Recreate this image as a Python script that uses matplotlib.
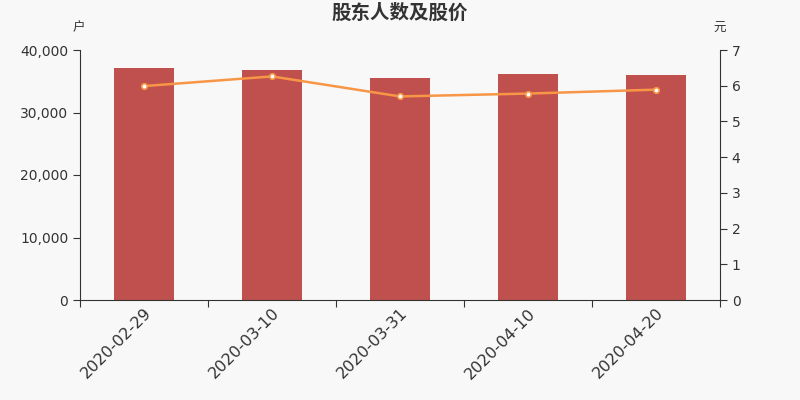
import matplotlib.pyplot as plt
from matplotlib.ticker import FuncFormatter

plt.rcParams['font.family'] = ['DejaVu Sans', 'Noto Sans CJK SC']

fechas = ['2020-02-29', '2020-03-10', '2020-03-31', '2020-04-10', '2020-04-20']
accionistas = [37200, 36880, 35600, 36150, 36080]
precios = [5.99, 6.26, 5.70, 5.78, 5.89]

color_barra = '#c0504d'
color_linea = '#f79646'
color_texto = '#333333'
fondo = '#f8f8f8'
cjk = ['Noto Sans CJK SC', 'DejaVu Sans']

fig = plt.figure(figsize=(8, 4), dpi=100, facecolor=fondo)
ax1 = fig.add_axes([0.1, 0.25, 0.8, 0.625], facecolor=fondo)
ax2 = ax1.twinx()

x = list(range(len(fechas)))
ax1.bar(x, accionistas, width=0.47, color=color_barra, zorder=2)
ax2.plot(x, precios, color=color_linea, lw=1.8, marker='o', ms=4,
         mfc='white', mec=color_linea, mew=1.2, zorder=3)

ax1.set_xlim(-0.5, len(fechas) - 0.5)
ax1.set_ylim(0, 40000)
ax1.set_yticks([0, 10000, 20000, 30000, 40000])
ax1.yaxis.set_major_formatter(FuncFormatter(lambda v, p: f'{int(v):,}'))
ax2.set_ylim(0, 7)
ax2.set_yticks(range(0, 8))

# ticks en los bordes de categoria, etiquetas en el centro
ax1.set_xticks([i - 0.5 for i in range(len(fechas) + 1)])
ax1.set_xticklabels([])
ax1.set_xticks(x, minor=True)
ax1.set_xticklabels(fechas, minor=True, rotation=45, ha='right', va='top',
                    rotation_mode='anchor', fontsize=11.5, color=color_texto)
ax1.tick_params(axis='x', which='minor', length=0, pad=4)
ax1.tick_params(axis='x', which='major', length=5, color=color_texto)

for ax in (ax1, ax2):
    ax.spines['top'].set_visible(False)
    ax.tick_params(axis='y', labelsize=10, labelcolor=color_texto, color=color_texto, length=5)
ax1.spines['right'].set_visible(False)
ax2.spines['left'].set_visible(False)
ax2.spines['bottom'].set_visible(False)
ax1.spines['left'].set_color(color_texto)
ax1.spines['bottom'].set_color(color_texto)
ax2.spines['right'].set_color(color_texto)

fig.text(0.5, 0.967, '股东人数及股价', ha='center', va='center', fontsize=14,
         fontweight='bold', color=color_texto, family=cjk)
fig.text(0.098, 0.93, '户', ha='center', va='center', fontsize=9, color=color_texto, family=cjk)
fig.text(0.899, 0.93, '元', ha='center', va='center', fontsize=9, color=color_texto, family=cjk)

fig.savefig('out.png', dpi=100, facecolor=fondo)
